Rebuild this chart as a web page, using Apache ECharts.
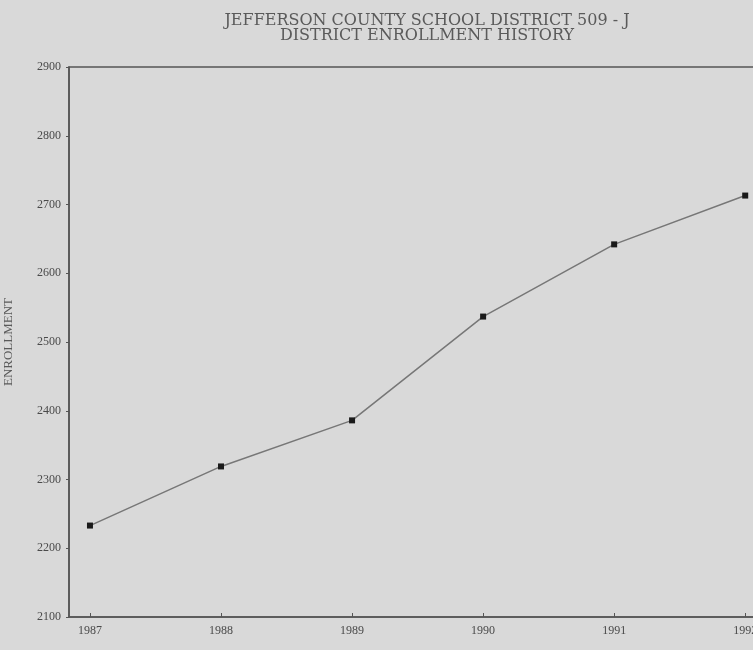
<!DOCTYPE html>
<html>
<head>
<meta charset="utf-8">
<script src="https://cdn.jsdelivr.net/npm/echarts@6/dist/echarts.min.js"></script>
<style>
html,body{margin:0;padding:0;background:#d9d9d9;}
#c{width:753px;height:650px;}
</style>
</head>
<body>
<div id="c"></div>
<script>
const titleLines = ["JEFFERSON COUNTY SCHOOL DISTRICT 509 - J", "DISTRICT ENROLLMENT HISTORY"];
const yAxisName = "ENROLLMENT";
const years = [1987, 1988, 1989, 1990, 1991, 1992];
const enrollment = [2233, 2319, 2386, 2537, 2642, 2713];
const yTicks = [2100, 2200, 2300, 2400, 2500, 2600, 2700, 2800, 2900];

const chart = echarts.init(document.getElementById('c'), null, {renderer: 'canvas'});
const font = '"Liberation Serif", "DejaVu Serif", serif';
chart.setOption({
  backgroundColor: '#d9d9d9',
  animation: false,
  title: {
    text: titleLines.join('\n'),
    left: 422, top: 8, textAlign: 'center',
    textStyle: {fontFamily: '"DejaVu Serif", serif', fontSize: 16, fontWeight: 'normal', color: '#5a5a5a', lineHeight: 15}
  },
  grid: {left: 69, top: 67, bottom: 33, right: -4, outerBoundsMode: 'none', containLabel: false,
         show: true, borderColor: '#555', borderWidth: 1.5, backgroundColor: 'transparent'},
  xAxis: {
    type: 'value', min: 1986.84, max: 1992.09,
    axisLine: {show: true, lineStyle: {color: '#555', width: 1.5}},
    axisTick: {show: true, inside: true, length: 4, customValues: years, lineStyle: {color: '#555'}},
    axisLabel: {customValues: years, formatter: v => String(v), color: '#4a4a4a', fontFamily: font, fontSize: 12, margin: 8},
    splitLine: {show: false}
  },
  yAxis: {
    type: 'value', min: 2100, max: 2900, interval: 100,
    name: yAxisName, nameLocation: 'middle', nameGap: 54, nameRotate: 90,
    nameTextStyle: {fontFamily: font, fontSize: 13, color: '#5a5a5a'},
    axisLine: {show: true, lineStyle: {color: '#555', width: 1.5}},
    axisTick: {show: true, length: 3, lineStyle: {color: '#555'}},
    axisLabel: {customValues: yTicks, formatter: v => String(v), color: '#4a4a4a', fontFamily: font, fontSize: 12, margin: 8},
    splitLine: {show: false}
  },
  series: [{
    type: 'line',
    data: years.map((y, i) => [y, enrollment[i]]),
    symbol: 'rect', symbolSize: 6,
    itemStyle: {color: '#1a1a1a'},
    lineStyle: {color: '#777', width: 1.5}
  }]
});
</script>
</body>
</html>
